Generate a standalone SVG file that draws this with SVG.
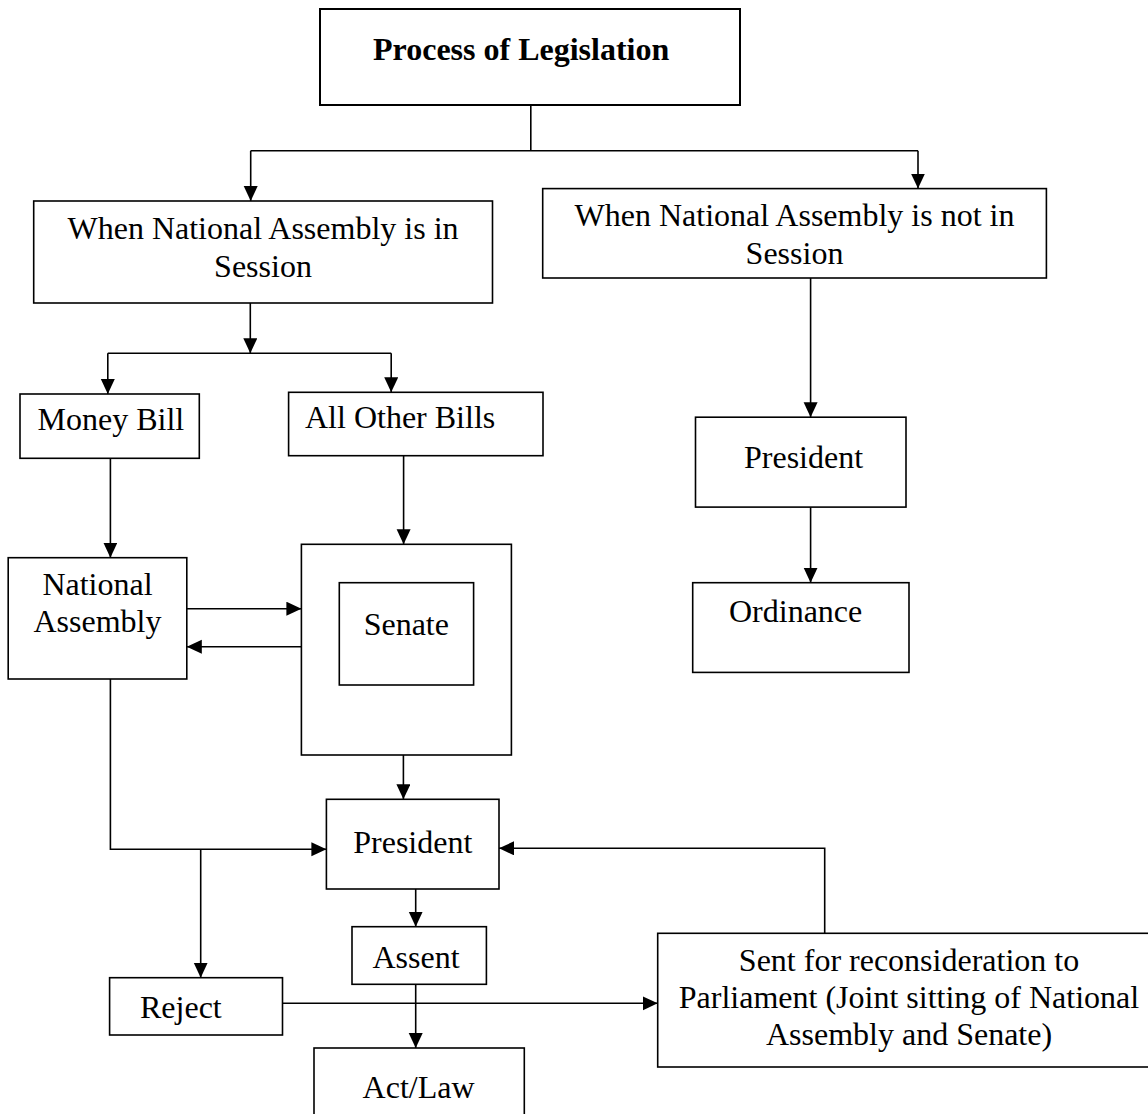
<svg xmlns="http://www.w3.org/2000/svg" width="1148" height="1114" viewBox="0 0 1148 1114">
<style>
.box{fill:#fff;stroke:#000;stroke-width:1.6}
.t{font-family:"Liberation Serif","Times New Roman",serif;fill:#000;font-size:32px}
.c{text-anchor:middle}
.ln{fill:none;stroke:#000;stroke-width:1.6}
.ar{marker-end:url(#ah)}
</style>
<defs>
<marker id="ah" markerUnits="userSpaceOnUse" markerWidth="16" markerHeight="15" refX="15" refY="7" orient="auto">
<path d="M0,0 L15,7 L0,14 z" fill="#000"/>
</marker>
</defs>
<rect width="1148" height="1114" fill="#fff"/>
<g id="connectors">
<path class="ln" d="M530.8,105 V150.7"/>
<path class="ln" d="M250.7,150.7 H918"/>
<path class="ln ar" d="M250.7,150.7 V201"/>
<path class="ln ar" d="M918,150.7 V188.6"/>
<path class="ln ar" d="M250.3,303 V353.3"/>
<path class="ln" d="M107.8,353.3 H391.2"/>
<path class="ln ar" d="M107.8,353.3 V394"/>
<path class="ln ar" d="M391.2,353.3 V392.3"/>
<path class="ln ar" d="M110.4,458.3 V557.7"/>
<path class="ln ar" d="M403.6,455.7 V544.3"/>
<path class="ln ar" d="M186.8,608.7 H301.4"/>
<path class="ln ar" d="M301.4,646.7 H186.8"/>
<path class="ln ar" d="M403.4,755 V799.3"/>
<path class="ln ar" d="M110.4,679 V849.3 H326.4"/>
<path class="ln ar" d="M200.7,849.3 V977.7"/>
<path class="ln ar" d="M415.7,889 V926.7"/>
<path class="ln ar" d="M282.5,1003.3 H657.7"/>
<path class="ln ar" d="M415.7,984.3 V1048"/>
<path class="ln ar" d="M824.7,933.3 V848.3 H499"/>
<path class="ln ar" d="M810.6,278 V417.2"/>
<path class="ln ar" d="M810.6,507.1 V582.7"/>
</g>
<g id="title">
<rect class="box" x="320" y="9" width="420" height="96" style="stroke-width:2"/>
<text class="t" x="373" y="60" font-weight="bold">Process of Legislation</text>
</g>
<g id="in-session">
<rect class="box" x="33.7" y="201" width="458.8" height="102"/>
<text class="t c" x="263" y="239">When National Assembly is in</text>
<text class="t c" x="263" y="276.7">Session</text>
</g>
<g id="not-in-session">
<rect class="box" x="542.7" y="188.6" width="503.7" height="89.4"/>
<text class="t c" x="794.5" y="226.4">When National Assembly is not in</text>
<text class="t c" x="794.5" y="263.6">Session</text>
</g>
<g id="money-bill">
<rect class="box" x="20" y="394" width="179.3" height="64.3"/>
<text class="t" x="37.5" y="430" font-size="29">Money Bill</text>
</g>
<g id="other-bills">
<rect class="box" x="288.6" y="392.3" width="254.4" height="63.4"/>
<text class="t" x="305" y="427.7" font-size="29">All Other Bills</text>
</g>
<g id="national-assembly">
<rect class="box" x="8.2" y="557.7" width="178.6" height="121.3"/>
<text class="t c" x="97.5" y="595">National</text>
<text class="t c" x="97.5" y="631.7">Assembly</text>
</g>
<g id="senate">
<rect class="box" x="301.4" y="544.3" width="210" height="210.7"/>
<rect class="box" x="339.3" y="582.7" width="134.3" height="102.3"/>
<text class="t c" x="406.3" y="635" font-size="33">Senate</text>
</g>
<g id="president-ordinance">
<rect class="box" x="695.5" y="417.2" width="210.5" height="89.9"/>
<text class="t" x="744" y="467.5">President</text>
</g>
<g id="ordinance">
<rect class="box" x="692.7" y="582.7" width="216.3" height="89.7"/>
<text class="t" x="729" y="621.7">Ordinance</text>
</g>
<g id="president">
<rect class="box" x="326.4" y="799.3" width="172.6" height="89.7"/>
<text class="t c" x="412.8" y="852.7" font-size="34">President</text>
</g>
<g id="assent">
<rect class="box" x="352" y="926.7" width="134.4" height="57.6"/>
<text class="t c" x="416" y="967.7" font-size="34">Assent</text>
</g>
<g id="reject">
<rect class="box" x="109.6" y="977.7" width="172.9" height="57.3"/>
<text class="t" x="140" y="1018.3" font-size="34">Reject</text>
</g>
<g id="act-law">
<rect class="box" x="314" y="1048" width="210.3" height="90"/>
<text class="t c" x="418.6" y="1098" font-size="28">Act/Law</text>
</g>
<g id="reconsideration">
<rect class="box" x="657.7" y="933.3" width="510" height="133.7"/>
<text class="t c" x="909" y="971">Sent for reconsideration to</text>
<text class="t c" x="909" y="1008.3">Parliament (Joint sitting of National</text>
<text class="t c" x="909" y="1045">Assembly and Senate)</text>
</g>
</svg>
